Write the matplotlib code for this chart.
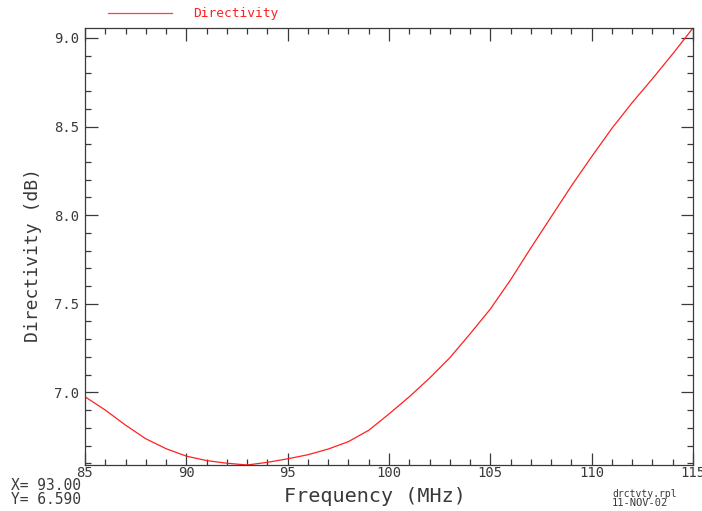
import matplotlib
matplotlib.use("Agg")
import matplotlib.pyplot as plt
from matplotlib.lines import Line2D
from matplotlib.ticker import MultipleLocator

# Directivity sweep, 85-115 MHz
freq = [85, 86, 87, 88, 89, 90, 91, 92, 93, 94, 95, 96, 97, 98, 99, 100,
        101, 102, 103, 104, 105, 106, 107, 108, 109, 110, 111, 112, 113, 114, 115]
directivity = [6.975, 6.900, 6.815, 6.738, 6.682, 6.640, 6.615, 6.600, 6.590,
               6.605, 6.625, 6.648, 6.680, 6.722, 6.786, 6.878, 6.975, 7.080,
               7.195, 7.330, 7.470, 7.635, 7.815, 7.990, 8.165, 8.330, 8.490,
               8.635, 8.770, 8.910, 9.056]
cursor_x = 93.00
cursor_y = 6.590

font = "DejaVu Sans Mono"
grey = "#3a3a3a"
W, H = 702, 511

fig = plt.figure(figsize=(7.02, 5.11), dpi=100)
ax = fig.add_axes([85 / W, 46 / H, 608 / W, 437 / H])

ax.plot(freq, directivity, color="#ff2020", linewidth=0.9, label="Directivity")

ax.set_xlim(85, 115)
ax.set_ylim(6.59, 9.056)
ax.xaxis.set_major_locator(MultipleLocator(5))
ax.xaxis.set_minor_locator(MultipleLocator(1))
ax.yaxis.set_minor_locator(MultipleLocator(0.1))
ax.set_yticks([7.0, 7.5, 8.0, 8.5, 9.0])
ax.tick_params(which="both", direction="in", top=True, right=True,
               color=grey, width=0.9)
ax.tick_params(which="major", length=9)
ax.tick_params(which="minor", length=4.5)
ax.tick_params(axis="x", pad=1, labelsize=10, labelcolor=grey)
ax.tick_params(axis="y", pad=4, labelsize=10, labelcolor=grey)
for lab in ax.get_xticklabels() + ax.get_yticklabels():
    lab.set_family(font)
for s in ax.spines.values():
    s.set_color(grey)
    s.set_linewidth(0.9)

ax.set_xlabel("Frequency (MHz)", fontsize=14.5, family=font, color=grey)
ax.xaxis.set_label_coords((375 - 85) / 608, -(496 - 465) / 437)
ax.xaxis.label.set_va("center")
ax.set_ylabel("Directivity (dB)", fontsize=13, family=font, color=grey)
ax.yaxis.set_label_coords(-(85 - 33) / 608, (511 - 255 - 46) / 437)
ax.yaxis.label.set_va("center")

# legend entry above the plot
fig.add_artist(Line2D([108 / W, 172 / W], [1 - 13 / H, 1 - 13 / H],
                      color="#ff4040", linewidth=0.9))
fig.text(193 / W, 1 - 13 / H, "Directivity", color="#ff2020", family=font,
         fontsize=9.3, va="center", ha="left")

# cursor readout and file stamp
fig.text(11 / W, 1 - 485 / H, "X= %.2f" % cursor_x, family=font, fontsize=10.5,
         color=grey, va="center")
fig.text(11 / W, 1 - 499 / H, "Y= %.3f" % cursor_y, family=font, fontsize=10.5,
         color=grey, va="center")
fig.text(612 / W, 1 - 494 / H, "drctvty.rpl", family=font, fontsize=7,
         color=grey, va="center")
fig.text(612 / W, 1 - 503 / H, "11-NOV-02", family=font, fontsize=7.5,
         color=grey, va="center")

fig.savefig("out.png", dpi=100)
